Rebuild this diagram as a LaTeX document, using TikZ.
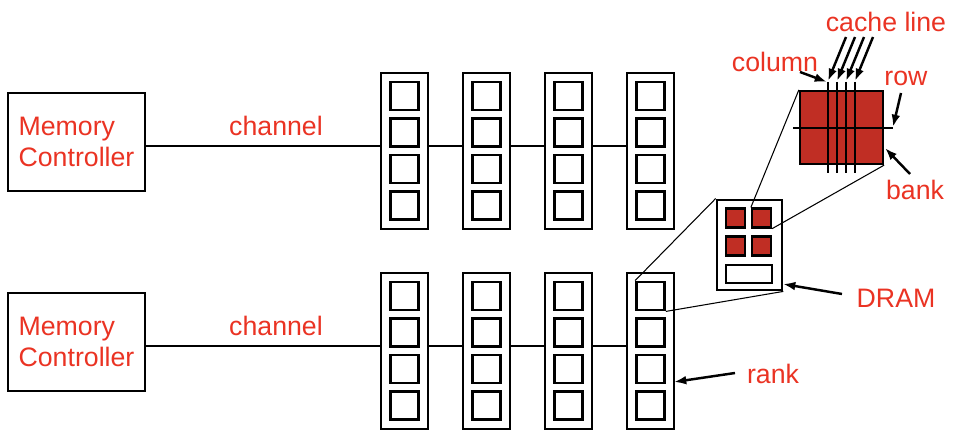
\documentclass[tikz,border=0pt]{standalone}
\usepackage{fontspec}
\setmainfont{Liberation Sans}
\usepackage{xcolor}
\definecolor{labelred}{RGB}{234,51,35}
\definecolor{bankred}{RGB}{192,46,36}
\usetikzlibrary{arrows.meta}

\tikzset{
  lbl/.style={text=labelred, font=\fontsize{15.2}{18}\selectfont, inner sep=0pt},
  ctrlbox/.style={draw, line width=1.4pt, minimum width=2.74cm, minimum height=1.96cm,
    align=left, inner sep=0pt, text=labelred, font=\fontsize{15.2}{18}\selectfont},
  rankbox/.style={draw, line width=1.6pt, minimum width=0.94cm, minimum height=3.12cm, inner sep=0pt},
  chipbox/.style={draw, line width=1.6pt, minimum width=0.56cm, minimum height=0.56cm, inner sep=0pt},
  bankbox/.style={draw, line width=1.3pt, fill=bankred, minimum width=0.38cm, minimum height=0.38cm, inner sep=0pt},
  wire/.style={line width=1.1pt},
  zoomline/.style={line width=0.6pt},
  pointer/.style={line width=1.4pt, -{Latex[length=7pt,width=5pt]}}
}

\begin{document}
\begin{tikzpicture}[x=0.02cm, y=-0.02cm]
  \useasboundingbox (0,0) rectangle (953,442);

  % Memory controllers
  \node[ctrlbox] (mc1) at (76.5,142) {Memory\\Controller};
  \node[ctrlbox] (mc2) at (76.5,342) {Memory\\Controller};
  \coordinate (bus1) at (0,146);
  \coordinate (bus2) at (0,346);

  % Ranks on both channels
  \foreach \i in {0,...,3} {
    \node[rankbox] (ra\i) at ({404.5+82*\i},151) {};
    \node[rankbox] (rb\i) at ({404.5+82*\i},351) {};
    \foreach \j in {0,...,3} {
      \node[chipbox] (ra\i-\j) at ({404.5+82*\i},{96+36.5*\j}) {};
      \node[chipbox] (rb\i-\j) at ({404.5+82*\i},{296+36.5*\j}) {};
    }
  }

  % Channels
  \draw[wire] (mc1.east |- bus1) -- (ra0.west |- bus1);
  \draw[wire] (mc2.east |- bus2) -- (rb0.west |- bus2);
  \foreach \i/\k in {0/1,1/2,2/3} {
    \draw[wire] (ra\i.east |- bus1) -- (ra\k.west |- bus1);
    \draw[wire] (rb\i.east |- bus2) -- (rb\k.west |- bus2);
  }
  \node[lbl] (chan1) at (276,126) {channel};
  \node[lbl] (chan2) at (276,326) {channel};

  % DRAM chip
  \node[draw, line width=1.6pt, minimum width=1.3cm, minimum height=1.8cm] (dram) at (749.5,245) {};
  \node[bankbox] (bk1) at (735.5,218) {};
  \node[bankbox] (bk2) at (761.5,218) {};
  \node[bankbox] (bk3) at (735.5,246) {};
  \node[bankbox] (bk4) at (761.5,246) {};
  \node[draw, line width=1.3pt, minimum width=0.92cm, minimum height=0.36cm, inner sep=0pt] (iobar) at (749,274) {};

  % Bank
  \node[draw, line width=1.3pt, fill=bankred, minimum width=1.66cm, minimum height=1.46cm] (bank) at (841.5,127.5) {};
  \foreach \x in {828,837,846,855}
    \draw[line width=1.1pt] (\x,82) -- (\x,173);
  \draw[line width=1.1pt] (793,128) -- (893,128);

  % Zoom lines
  \draw[zoomline] (rb3-0.north west) -- (dram.north west);
  \draw[zoomline] (rb3-0.south east) -- (dram.south east);
  \draw[zoomline] (bk2.north west) -- (bank.north west);
  \draw[zoomline] (bk2.south east) -- (bank.south east);

  % Labels
  \node[lbl] (lcache) at (886,22) {cache line};
  \node[lbl] (lcol) at (775,62) {column};
  \node[lbl] (lrow) at (906,78) {row};
  \node[lbl] (lbank) at (915,190) {bank};
  \node[lbl] (ldram) at (896,298) {DRAM};
  \node[lbl] (lrank) at (773,374) {rank};

  % Arrow ends
  \foreach \n/\x in {1/846,2/855,3/864,4/873}
    \coordinate (cs\n) at (\x,37);
  \foreach \n/\x in {1/828,2/837,3/846,4/855}
    \coordinate (ce\n) at (\x,81);
  \coordinate (cols) at (800,72);
  \coordinate (colpt) at (827,82);
  \coordinate (rows) at (901,93);
  \coordinate (rowpt) at (893,127);
  \coordinate (banks) at (910,174);
  \coordinate (bankpt) at (885,148);
  \coordinate (drams) at (842,294);
  \coordinate (drampt) at (783,284);
  \coordinate (ranks) at (735,373);
  \coordinate (rankpt) at (674,382);

  % Arrows
  \foreach \n in {1,...,4}
    \draw[pointer] (cs\n) -- (ce\n);
  \draw[pointer] (cols) -- (colpt);
  \draw[pointer] (rows) -- (rowpt);
  \draw[pointer] (banks) -- (bankpt);
  \draw[pointer] (drams) -- (drampt);
  \draw[pointer] (ranks) -- (rankpt);
\end{tikzpicture}
\end{document}
